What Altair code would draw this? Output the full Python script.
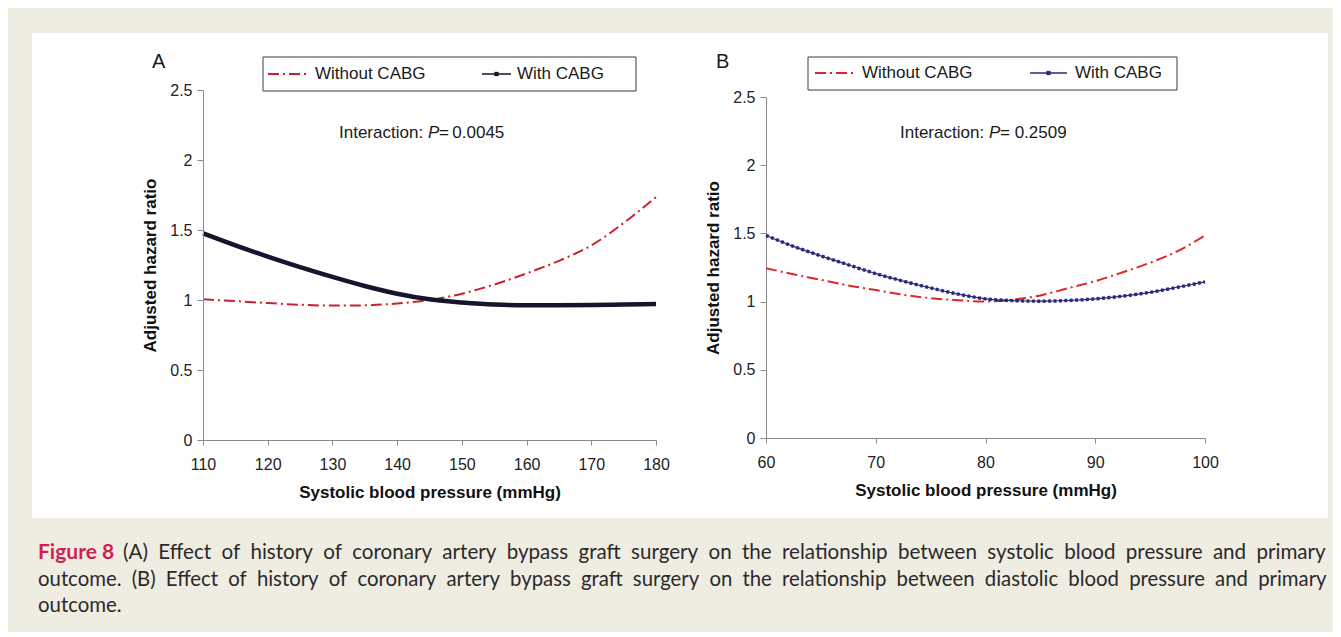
import altair as alt
import pandas as pd

# ---------------- data ----------------
# Panel A: systolic blood pressure
sbp_x = [110, 115, 120, 125, 130, 135, 140, 145, 150, 155, 160, 165, 170, 175, 180]
sbp_without = [1.005, 0.992, 0.978, 0.966, 0.960, 0.962, 0.975, 1.000, 1.045, 1.110,
               1.190, 1.280, 1.390, 1.550, 1.735]
sbp_with = [1.476, 1.390, 1.310, 1.235, 1.165, 1.100, 1.045, 1.005, 0.982, 0.967,
            0.963, 0.963, 0.964, 0.968, 0.971]

# Panel B: diastolic blood pressure
dbp_x = [60, 62.5, 65, 67.5, 70, 72.5, 75, 77.5, 80, 82.5, 85, 87.5, 90, 92.5, 95, 97.5, 100]
dbp_without = [1.245, 1.200, 1.160, 1.118, 1.085, 1.050, 1.025, 1.010, 1.000, 1.015,
               1.045, 1.098, 1.150, 1.215, 1.285, 1.370, 1.485]
dbp_with = [1.485, 1.405, 1.335, 1.270, 1.205, 1.150, 1.100, 1.055, 1.020, 1.007,
            1.003, 1.008, 1.020, 1.040, 1.068, 1.105, 1.145]

y_ticks = [0, 0.5, 1, 1.5, 2, 2.5]
sbp_ticks = [110, 120, 130, 140, 150, 160, 170, 180]
dbp_ticks = [60, 70, 80, 90, 100]

series_labels = ["Without CABG", "With CABG"]
panel_labels = ["A", "B"]
interaction_p = ["0.0045", "0.2509"]
y_title = "Adjusted hazard ratio"
x_title = "Systolic blood pressure (mmHg)"
caption_fig = "Figure 8"
caption_lines = [
    "(A) Effect of history of coronary artery bypass graft surgery on the relationship between systolic blood pressure and primary",
    "outcome. (B) Effect of history of coronary artery bypass graft surgery on the relationship between diastolic blood pressure and primary",
    "outcome.",
]

# ---------------- styling ----------------
FONT = "Liberation Sans"
CAP_FONT = "Lato"
GRAY = "#8a8a8a"
RED_A = "#c8232c"
RED_B = "#e0262b"
DARK_A = "#15152e"
BLUE_B = "#2a2a7c"
BG = "#efece2"
DASHDOT = [11, 4, 2, 4]
WIDE = "\u2002"  # wider word space to mimic the justified caption


def txt(t, x, y, size=17, weight="normal", style="normal", color="#1a1a1a",
        align="left", font=FONT):
    return alt.Chart(alt.Data(values=[{"t": t}])).mark_text(
        align=align, baseline="middle", fontSize=size, fontWeight=weight,
        fontStyle=style, color=color, font=font
    ).encode(text="t:N", x=alt.value(x), y=alt.value(y))


def rect(x, x2, y, y2, fill, stroke=None):
    kw = dict(fill=fill)
    if stroke:
        kw.update(stroke=stroke, strokeWidth=1)
    return alt.Chart(alt.Data(values=[{}])).mark_rect(**kw).encode(
        x=alt.value(x), x2=alt.value(x2), y=alt.value(y), y2=alt.value(y2))


def seg(x, x2, y, color, dash=None, width=2):
    kw = dict(color=color, strokeWidth=width)
    if dash:
        kw["strokeDash"] = dash
    return alt.Chart(alt.Data(values=[{}])).mark_rule(**kw).encode(
        x=alt.value(x), x2=alt.value(x2), y=alt.value(y))


def dot(x, y, color):
    return alt.Chart(alt.Data(values=[{}])).mark_square(
        color=color, size=18, opacity=1).encode(x=alt.value(x), y=alt.value(y))


def y_axis(z=0):
    return alt.Axis(values=y_ticks, format="~g", title=y_title, grid=False,
                    domainColor=GRAY, tickColor=GRAY, tickSize=6, labelPadding=5,
                    labelFontSize=16, labelFont=FONT, labelColor="#222",
                    titleFont=FONT, titleFontSize=17, titleFontWeight="bold",
                    titleColor="#111", titlePadding=10, zindex=z)


def x_axis(vals, z=0):
    return alt.Axis(values=vals, format="d", title=x_title, grid=False,
                    domainColor=GRAY, tickColor=GRAY, tickSize=5, labelPadding=11,
                    labelFontSize=16, labelFont=FONT, labelColor="#222",
                    labelFlush=False,
                    titleFont=FONT, titleFontSize=17, titleFontWeight="bold",
                    titleColor="#111", titlePadding=12, zindex=z)


# ---------------- panel A ----------------
dfA = pd.DataFrame({"bp": sbp_x, "without": sbp_without, "with": sbp_with})
xA = alt.X("bp:Q", scale=alt.Scale(domain=[110, 180], nice=False, zero=False),
           axis=x_axis(sbp_ticks, 1))
yA_sc = alt.Scale(domain=[0, 2.5], nice=False)

baseA = alt.Chart(dfA)
redA = baseA.mark_line(color=RED_A, strokeWidth=2, strokeDash=DASHDOT,
                       interpolate="monotone").encode(
    x=xA, y=alt.Y("without:Q", scale=yA_sc, axis=y_axis(1)))
blackA = baseA.mark_line(color=DARK_A, strokeWidth=4.5,
                         interpolate="monotone").encode(
    x=xA, y=alt.Y("with:Q", scale=yA_sc, axis=y_axis(1)))

panelA = alt.layer(
    rect(-171, 1125, -57, 428, "white"),
    rect(60, 433, -33, 1, "white", "#3c3c3c"),
    seg(65, 104, -16, RED_A, DASHDOT),
    txt(series_labels[0], 112, -16),
    seg(279, 308, -16, DARK_A, None, 1.5),
    dot(293.5, -16, DARK_A),
    txt(series_labels[1], 314, -16),
    txt(panel_labels[0], -51, -28, size=20),
    txt("Interaction: ", 136, 43),
    txt("P", 225, 43, style="italic"),
    txt("\u2009=\u2009" + interaction_p[0], 236, 43),
    redA, blackA,
    txt(caption_fig, -165, 463, size=21, weight="bold", color="#d31f52", font=CAP_FONT),
    txt(caption_lines[0].replace(" ", WIDE), -80, 463, size=20.6,
        color="#2a2a2a", font=CAP_FONT),
    txt(caption_lines[1].replace(" ", WIDE), -165, 490, size=20.35,
        color="#2a2a2a", font=CAP_FONT),
    txt(caption_lines[2], -165, 516, size=20.4, color="#2a2a2a", font=CAP_FONT),
).properties(width=453, height=350)

# ---------------- panel B ----------------
dfB = pd.DataFrame({"bp": dbp_x, "without": dbp_without, "with": dbp_with})
xB = alt.X("bp:Q", scale=alt.Scale(domain=[60, 100], nice=False, zero=False),
           axis=x_axis(dbp_ticks))
yB_sc = alt.Scale(domain=[0, 2.5], nice=False, range=[348, 7])

baseB = alt.Chart(dfB)
redB = baseB.mark_line(color=RED_B, strokeWidth=2, strokeDash=DASHDOT,
                       interpolate="monotone").encode(
    x=xB, y=alt.Y("without:Q", scale=yB_sc, axis=y_axis()))
blueB_line = baseB.mark_line(color=BLUE_B, strokeWidth=1.2,
                             interpolate="monotone").encode(
    x=xB, y=alt.Y("with:Q", scale=yB_sc, axis=y_axis()))
blueB_dots = baseB.mark_line(color=BLUE_B, strokeWidth=3.4, strokeDash=[3, 2.4],
                             interpolate="monotone").encode(
    x=xB, y=alt.Y("with:Q", scale=yB_sc, axis=y_axis()))

panelB = alt.layer(
    rect(42, 411, -33, 0, "white", "#3c3c3c"),
    seg(49, 89, -17, RED_B, DASHDOT),
    txt(series_labels[0], 96, -17),
    seg(264, 301, -17, BLUE_B, None, 1.5),
    dot(282.5, -17, BLUE_B),
    txt(series_labels[1], 309, -17),
    txt(panel_labels[1], -50, -28, size=20),
    txt("Interaction: ", 134, 43),
    txt("P", 223, 43, style="italic"),
    txt("= " + interaction_p[1], 234, 43),
    redB, blueB_line, blueB_dots,
).properties(width=439, height=348)

chart = alt.hconcat(panelA, panelB, spacing=110, bounds="flush").properties(
    background=BG,
    padding={"left": 24, "top": 25, "right": 5, "bottom": 15},
).configure_view(stroke=None)

chart.save("out.html", embed_options={"renderer": "svg", "actions": False})
